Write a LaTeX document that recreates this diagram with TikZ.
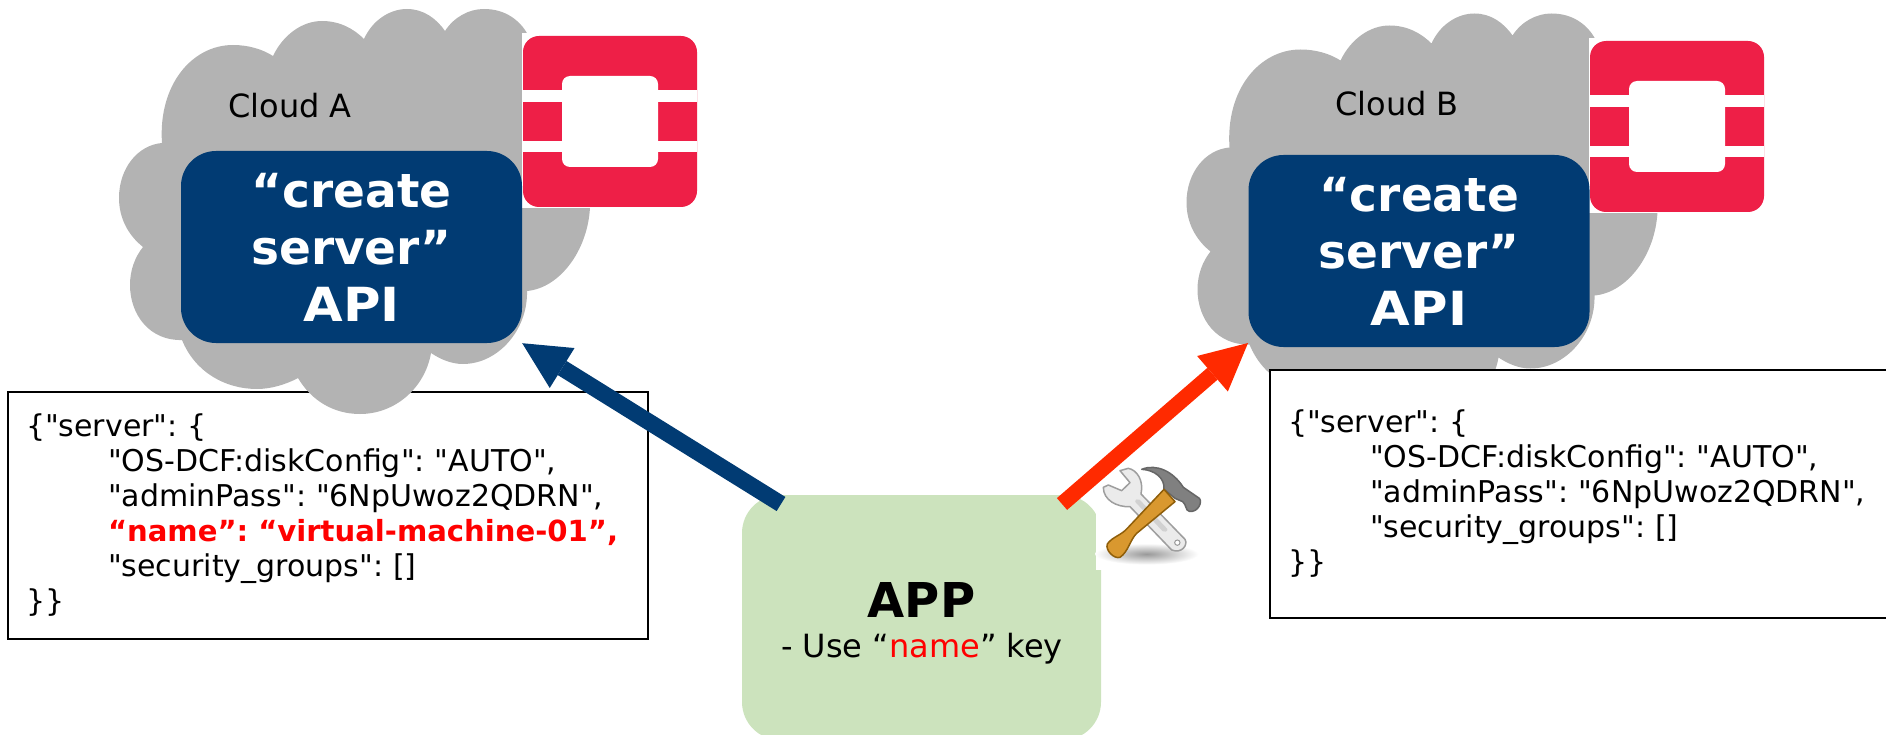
\documentclass[tikz,border=0pt]{standalone}
\usepackage{fontspec}
\setmainfont{DejaVu Sans}
\newfontfamily\jsonfont{DejaVu Sans}
\usetikzlibrary{arrows.meta}
\definecolor{apiblue}{HTML}{013B73}
\definecolor{cloudgray}{HTML}{B3B3B3}
\definecolor{logored}{HTML}{EE1F47}
\definecolor{appgreen}{HTML}{CCE3BD}
\definecolor{arrowred}{HTML}{FF2A00}
\definecolor{handlefill}{HTML}{D9982F}
\definecolor{handleline}{HTML}{8F5E0A}
\tikzset{
    cloudshape/.pic={
        \fill[cloudgray] (162,143) .. controls (158,85) and (192,45) .. (233,45)
            .. controls (248,45) and (262,49) .. (273,56)
            .. controls (283,35) and (302,21) .. (322,21)
            .. controls (340,21) and (354,29) .. (364,39)
            .. controls (372,21) and (389,9) .. (407,9)
            .. controls (423,9) and (436,18) .. (445,31)
            .. controls (454,17) and (469,9) .. (484,9)
            .. controls (505,9) and (520,20) .. (528,35)
            .. controls (560,50) and (592,150) .. (590,207)
            .. controls (588,250) and (560,288) .. (527,291)
            .. controls (528,330) and (498,364) .. (463,364)
            .. controls (451,364) and (440,359) .. (431,353)
            .. controls (425,388) and (395,414) .. (360,414)
            .. controls (333,414) and (311,400) .. (298,378)
            .. controls (285,385) and (270,389) .. (257,389)
            .. controls (225,389) and (195,372) .. (182,340)
            .. controls (150,341) and (130,315) .. (130,285)
            .. controls (130,270) and (135,257) .. (143,247)
            .. controls (128,235) and (119,218) .. (119,198)
            .. controls (119,168) and (138,145) .. (162,143) -- cycle;
    },
    logoshape/.pic={
        \fill[white] (-1,-3) rectangle (175,172);
        \fill[logored, rounded corners=16pt] (0,0) rectangle (174,171);
        \fill[white] (0,54) rectangle (174,66);
        \fill[white] (0,105) rectangle (174,116);
        \fill[white, rounded corners=8pt] (39,40) rectangle (135,131);
    },
    toolsicon/.pic={
        \shade[inner color=black!40, outer color=white] (320,462) ellipse (155 and 32);
        \filldraw[fill=black!8, draw=black!38, line width=1.5pt, line join=round]
            (190,262) -- (205,255) -- (245,272) -- (270,248) -- (240,212) -- (265,205)
            .. controls (290,210) and (312,240) .. (303,282) -- (435,418)
            .. controls (445,435) and (425,462) .. (395,450) -- (270,320)
            .. controls (230,322) and (190,300) .. (190,262) -- cycle;
        \fill[black!18, rounded corners=2pt] (283,303) -- (295,295) -- (385,390) -- (372,398) -- cycle;
        \filldraw[fill=white, draw=black!40, line width=1pt] (412,428) circle (8);
        \filldraw[fill=black!50, draw=black!60, line width=1.5pt, line join=round]
            (305,208) .. controls (350,190) and (400,215) .. (430,262) -- (478,295)
            .. controls (488,305) and (475,338) .. (448,334) .. controls (436,332) and (440,315) .. (428,305)
            -- (405,295) -- (372,268) .. controls (375,235) and (345,210) .. (305,208) -- cycle;
        \filldraw[fill=handlefill, draw=handleline, line width=1.5pt, line join=round]
            (372,268) -- (405,305) -- (290,400) .. controls (270,420) and (265,455) .. (240,472)
            .. controls (222,478) and (195,450) .. (202,432) .. controls (215,412) and (245,405) .. (262,385) -- cycle;
    }
}
\begin{document}
\frenchspacing
\begin{tikzpicture}[x=1pt, y=-1pt,
    jsonbox/.style={draw=black, fill=white, line width=1.5pt, minimum width=640pt, minimum height=247pt,
        inner xsep=18pt, text width=604pt, align=left, font=\jsonfont\fontsize{30pt}{35pt}\selectfont},
    apibox/.style={fill=apiblue, text=white, rounded corners=35pt, minimum width=341pt, minimum height=192pt,
        inner sep=0pt, align=center, font=\fontsize{47pt}{57pt}\selectfont\bfseries},
    cloudlabel/.style={anchor=base west, inner sep=0pt, font=\fontsize{32pt}{38pt}\selectfont},
    appbox/.style={fill=appgreen, rounded corners=38pt, minimum width=359pt, minimum height=245pt,
        inner sep=0pt},
    apptitle/.style={anchor=base, inner sep=0pt, font=\fontsize{48pt}{56pt}\selectfont\bfseries},
    appnote/.style={anchor=base, inner sep=0pt, font=\fontsize{32pt}{38pt}\selectfont},
    bluearrow/.style={draw=apiblue, line width=16.6pt, -{Triangle[length=47pt,width=47pt,line width=0pt]}},
    redarrow/.style={draw=arrowred, line width=15.6pt, -{Triangle[length=47pt,width=47pt,line width=0pt]}}]

    \useasboundingbox (0,0) rectangle (1886,735);
    \clip (0,0) rectangle (1886,735);

    % left side
    \node[jsonbox] (jsonA) at (328,515.5) {\{"server": \{\\
        \hspace*{82pt}"OS-DCF:diskConfig": "AUTO",\\
        \hspace*{82pt}"adminPass": "6NpUwoz2QDRN",\\
        \hspace*{82pt}\textcolor{red}{\fontsize{29.1pt}{35pt}\selectfont\textbf{“name”: “virtual-machine-01”,}}\\
        \hspace*{82pt}"security\_groups": []\\
        \}\}};
    \pic at (0,0) {cloudshape};
    \pic at (523,36) {logoshape};
    \node[apibox] (apiA) at (351.5,247) {“create\\server”\\\scalebox{1.09}[1]{API}};
    \node[cloudlabel] (cloudA) at (228,118) {Cloud A};

    % right side
    \pic at (1067.5,4.5) {cloudshape};
    \pic at (1590,41) {logoshape};
    \node[apibox] (apiB) at (1419,251) {“create\\server”\\\scalebox{1.09}[1]{API}};
    \node[cloudlabel] (cloudB) at (1335,116) {Cloud B};
    \node[jsonbox, minimum height=248pt] (jsonB) at (1590,494) {\{"server": \{\\
        \hspace*{82pt}"OS-DCF:diskConfig": "AUTO",\\
        \hspace*{82pt}"adminPass": "6NpUwoz2QDRN",\\
        \hspace*{82pt}"security\_groups": []\\
        \}\}};

    % app
    \node[appbox] (app) at (921.5,617.5) {};
    \node[apptitle] (apptitle) at (921.5,617) {APP};
    \node[appnote] (appnote) at (922,657) {- Use “\textcolor{red}{name}” key};
    \fill[white] (1096,460) rectangle (1205,570);
    \begin{scope}[shift={(1040,400)}, scale=0.3333, transform shape]
        \pic {toolsicon};
    \end{scope}

    \coordinate (blueend) at (781,504);
    \coordinate (redstart) at (1062,504);
    \coordinate (redtip) at (1248,343);
    \draw[bluearrow] (blueend) -- (apiA.south east);
    \draw[redarrow] (redstart) -- (redtip);
\end{tikzpicture}
\end{document}
